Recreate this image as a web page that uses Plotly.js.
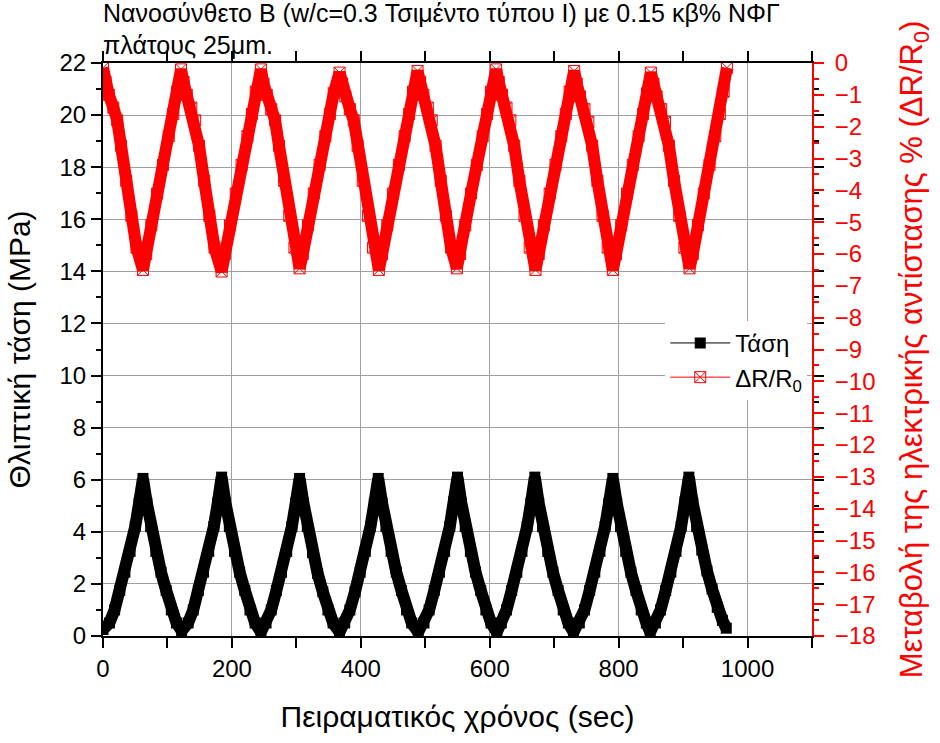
<!DOCTYPE html>
<html>
<head>
<meta charset="utf-8">
<script src="https://cdn.plot.ly/plotly-3.0.1.min.js"></script>
<style>html,body{margin:0;padding:0;background:#fff;}#chart{width:940px;height:743px;}</style>
</head>
<body>
<div id="chart"></div>
<script>
// Stress (MPa) vs experimental time (sec)
var stressTime = [0, 10, 18, 26, 34, 42, 50, 56, 62, 68, 74, 82, 90, 98, 106, 114, 122,
 132, 140, 148, 156, 164, 172, 178, 184, 190, 196, 204, 212, 220, 228, 236, 245,
 253, 261, 269, 277, 285, 293, 299, 305, 311, 317, 325, 333, 341, 349, 357, 367,
 375, 383, 391, 399, 407, 415, 421, 427, 433, 439, 447, 455, 463, 471, 479, 489,
 498, 506, 514, 522, 530, 538, 544, 550, 556, 562, 570, 578, 586, 594, 602, 611,
 618, 626, 634, 642, 650, 658, 664, 670, 676, 682, 690, 698, 706, 714, 722, 730,
 739, 747, 755, 763, 771, 779, 785, 791, 797, 803, 811, 819, 827, 835, 843, 849,
 857, 865, 873, 881, 889, 897, 903, 909, 915, 921, 929, 937, 945, 953, 961, 967];
var stressVal = [0.25, 0.5, 1.0, 1.75, 2.45, 3.25, 4.2, 5.1, 6.05, 5.1, 4.2, 3.25, 2.45, 1.75, 1.0, 0.5, 0.2,
 0.5, 1.0, 1.75, 2.45, 3.25, 4.2, 5.1, 6.1, 5.1, 4.2, 3.25, 2.45, 1.75, 1.0, 0.5, 0.15,
 0.5, 1.0, 1.75, 2.45, 3.25, 4.2, 5.1, 6.05, 5.1, 4.2, 3.2, 2.4, 1.7, 1.0, 0.5, 0.15,
 0.5, 1.0, 1.7, 2.45, 3.25, 4.2, 5.1, 6.05, 5.1, 4.2, 3.25, 2.45, 1.75, 1.0, 0.5, 0.15,
 0.5, 1.0, 1.75, 2.45, 3.25, 4.2, 5.15, 6.1, 5.1, 4.2, 3.25, 2.45, 1.75, 1.0, 0.5, 0.15,
 0.5, 1.0, 1.75, 2.45, 3.25, 4.2, 5.1, 6.1, 5.1, 4.2, 3.25, 2.45, 1.75, 1.0, 0.5, 0.15,
 0.5, 1.0, 1.75, 2.45, 3.25, 4.2, 5.1, 6.05, 5.1, 4.2, 3.25, 2.45, 1.75, 1.0, 0.5, 0.15,
 0.5, 1.0, 1.75, 2.45, 3.25, 4.2, 5.15, 6.1, 5.1, 4.2, 3.3, 2.5, 1.8, 1.1, 0.6, 0.3];

// Change of electrical resistance ΔR/R0 (%) vs time (sec)
var resTime = [0, 4, 9, 16, 22, 28, 36, 44, 52, 62, 67, 75, 84, 93, 102, 109, 115, 121,
 125, 130, 137, 143, 149, 157, 165, 173, 184, 189, 197, 206, 215, 224, 231, 237, 245,
 249, 254, 261, 267, 273, 281, 289, 297, 305, 310, 318, 327, 336, 345, 352, 358, 367,
 371, 376, 383, 389, 395, 403, 411, 419, 428, 433, 441, 450, 459, 468, 475, 481, 488,
 492, 497, 504, 510, 516, 524, 532, 540, 549, 554, 562, 571, 580, 589, 596, 602, 610,
 614, 619, 626, 632, 638, 646, 654, 662, 671, 676, 684, 693, 702, 711, 718, 724, 731,
 735, 740, 747, 753, 759, 767, 775, 783, 791, 796, 804, 813, 822, 831, 838, 844, 850,
 854, 859, 866, 872, 878, 886, 894, 902, 910, 915, 923, 932, 941, 950, 957, 963, 968];
var resVal = [-0.15, -0.6, -1.0, -1.4, -1.8, -2.6, -3.7, -4.8, -5.8, -6.5, -6.0, -5.1, -4.1, -3.2, -2.3, -1.6, -0.9, -0.2,
 -0.6, -1.0, -1.4, -1.8, -2.6, -3.7, -4.8, -5.8, -6.55, -6.0, -5.1, -4.1, -3.2, -2.3, -1.6, -0.9, -0.2,
 -0.65, -1.0, -1.45, -1.8, -2.6, -3.7, -4.8, -5.8, -6.45, -6.0, -5.1, -4.1, -3.2, -2.3, -1.6, -0.95, -0.3,
 -0.65, -1.05, -1.45, -1.8, -2.6, -3.7, -4.8, -5.8, -6.5, -6.0, -5.1, -4.1, -3.2, -2.3, -1.6, -0.9, -0.25,
 -0.6, -1.0, -1.4, -1.8, -2.6, -3.7, -4.8, -5.8, -6.45, -6.0, -5.1, -4.1, -3.2, -2.3, -1.6, -0.9, -0.2,
 -0.6, -1.0, -1.4, -1.8, -2.6, -3.7, -4.8, -5.8, -6.5, -6.0, -5.1, -4.1, -3.2, -2.3, -1.6, -0.9, -0.25,
 -0.65, -1.05, -1.45, -1.85, -2.6, -3.7, -4.8, -5.8, -6.5, -6.0, -5.1, -4.1, -3.2, -2.3, -1.6, -0.95, -0.3,
 -0.65, -1.05, -1.45, -1.85, -2.6, -3.7, -4.8, -5.8, -6.45, -6.0, -5.1, -4.1, -3.2, -2.3, -1.6, -0.9, -0.15];

var seriesNames = ['Τάση', 'ΔR/R<sub>0</sub>'];
var titleText = 'Νανοσύνθετο Β (w/c=0.3 Τσιμέντο τύπου Ι) με 0.15 κβ% ΝΦΓ<br>πλάτους 25μm.';
var xTitle = 'Πειραματικός χρόνος (sec)';
var yTitle = 'Θλιπτική τάση (MPa)';
var y2Title = 'Μεταβολή της ηλεκτρικής αντίστασης % (ΔR/R<sub>0</sub>)';

var FONT = 'Liberation Sans, Arial, sans-serif';
var RED = '#ff0000';

var traces = [
  {x: stressTime, y: stressVal, mode: 'lines', line: {color: '#000', width: 12}, showlegend: false, hoverinfo: 'skip'},
  {x: resTime, y: resVal, yaxis: 'y2', mode: 'lines', line: {color: RED, width: 12}, showlegend: false, hoverinfo: 'skip'},
  {x: stressTime, y: stressVal, name: seriesNames[0], mode: 'lines+markers',
   line: {color: '#000', width: 1}, marker: {symbol: 'square', size: 11, color: '#000'}},
  {x: resTime, y: resVal, yaxis: 'y2', name: seriesNames[1], mode: 'lines+markers',
   line: {color: RED, width: 1}, marker: {symbol: 'square-x-open', size: 11, color: RED, line: {color: RED, width: 1}}}
];

var layout = {
  width: 940, height: 743,
  paper_bgcolor: '#fff', plot_bgcolor: '#fff',
  margin: {l: 103, r: 128, t: 63, b: 107},
  font: {family: FONT, color: '#000'},
  title: {text: titleText, x: 0.1096, xref: 'container', xanchor: 'left', y: 0.971, yref: 'container', yanchor: 'top',
          font: {size: 25, family: FONT, color: '#000'}},
  showlegend: true,
  legend: {x: 0.793, y: 0.55, xanchor: 'left', yanchor: 'top', bgcolor: '#fff', borderwidth: 0,
           font: {size: 24, family: FONT}, itemwidth: 60, tracegroupgap: 0},
  xaxis: {range: [0, 1100], dtick: 200, tick0: 0, ticks: 'outside', ticklen: 10, tickwidth: 2, tickcolor: '#000',
          showline: true, linecolor: '#000', linewidth: 2, mirror: 'allticks',
          showgrid: true, gridcolor: '#a0a0a0', gridwidth: 1, zeroline: false,
          tickfont: {size: 24, family: FONT},
          minor: {dtick: 100, ticks: 'outside', ticklen: 5, tickwidth: 2, tickcolor: '#000', showgrid: false},
          title: {text: xTitle, font: {size: 30, family: FONT}, standoff: 25}},
  yaxis: {range: [0, 22], dtick: 2, tick0: 0, ticks: 'outside', ticklen: 10, tickwidth: 2, tickcolor: '#000',
          showline: true, linecolor: '#000', linewidth: 2, mirror: 'allticks',
          showgrid: true, gridcolor: '#a0a0a0', gridwidth: 1, zeroline: false,
          tickfont: {size: 24, family: FONT},
          minor: {dtick: 1, ticks: 'outside', ticklen: 5, tickwidth: 2, tickcolor: '#000', showgrid: false},
          title: {text: yTitle, font: {size: 30, family: FONT}, standoff: 20}},
  yaxis2: {overlaying: 'y', side: 'right', range: [-18, 0], dtick: 1, tick0: 0,
           ticks: 'outside', ticklen: 10, tickwidth: 2, tickcolor: RED,
           showline: true, linecolor: RED, linewidth: 2, showgrid: false, zeroline: false,
           tickfont: {size: 24, family: FONT, color: RED}, ticklabelstandoff: 6,
           minor: {dtick: 0.5, ticks: 'outside', ticklen: 5, tickwidth: 2, tickcolor: RED, showgrid: false},
           title: {text: y2Title, font: {size: 31, family: FONT, color: RED}, standoff: 26}}
};

Plotly.newPlot('chart', traces, layout, {displayModeBar: false, staticPlot: true});
</script>
</body>
</html>
